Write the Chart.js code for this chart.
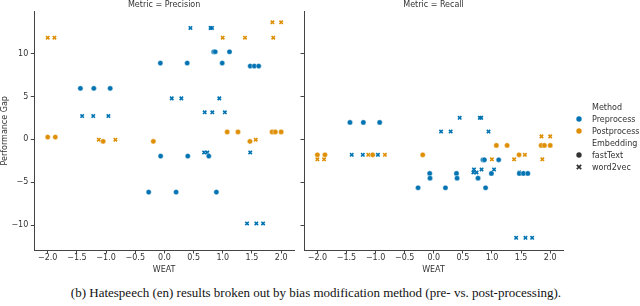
<!DOCTYPE html>
<html lang="en">
<head>
<meta charset="UTF-8">
<title>Hatespeech (en) performance gap by bias modification method</title>
<script src="https://cdn.jsdelivr.net/npm/chart.js"></script>
<style>
    body {
        margin: 0;
        width: 640px;
        height: 306px;
        position: relative;
        overflow: hidden;
        background: #fff;
        font-family: "DejaVu Sans", sans-serif;
    }
    .panel { position: absolute; top: 0; height: 280px; }
    #precision-panel { left: 0; width: 300px; }
    #recall-panel { left: 290px; width: 350px; }
    .legend {
        position: absolute;
        left: 574px;
        top: 101px;
        font-size: 8px;
        color: #333;
        white-space: nowrap;
    }
    .legend .row { display: flex; align-items: center; height: 12px; }
    .legend .mk { width: 10px; height: 10px; margin-right: 8px; display: flex; align-items: center; justify-content: center; }
    .caption {
        position: absolute;
        left: -4px;
        top: 285px;
        width: 640px;
        text-align: center;
        font-family: "Liberation Serif", serif;
        font-size: 13px;
        color: #111;
    }
</style>
</head>
<body>
    <div class="panel" id="precision-panel"><canvas id="precision"></canvas></div>
    <div class="panel" id="recall-panel"><canvas id="recall"></canvas></div>

    <div class="legend">
        <div class="row"><span class="mk"></span>Method</div>
        <div class="row"><span class="mk"><svg width="6" height="6"><circle cx="3" cy="3" r="2.7" fill="#0173b2"/></svg></span>Preprocess</div>
        <div class="row"><span class="mk"><svg width="6" height="6"><circle cx="3" cy="3" r="2.7" fill="#de8f05"/></svg></span>Postprocess</div>
        <div class="row"><span class="mk"></span>Embedding</div>
        <div class="row"><span class="mk"><svg width="6" height="6"><circle cx="3" cy="3" r="2.7" fill="#333"/></svg></span>fastText</div>
        <div class="row"><span class="mk"><svg width="6" height="6"><path d="M0.8 0.8 L5.2 5.2 M5.2 0.8 L0.8 5.2" stroke="#333" stroke-width="1.7"/></svg></span>word2vec</div>
    </div>

    <div class="caption">(b) Hatespeech (en) results broken out by bias modification method (pre- vs. post-processing).</div>

    <script>
        const weatTicks = [-2, -1.5, -1, -0.5, 0, 0.5, 1, 1.5, 2];
        const gapTicks = [-10, -5, 0, 5, 10];

        // Preprocess + fastText
        const preFastWeat = [-1.44, -1.21, -0.93, -0.07, 0.39, 0.99, 0.845, 0.87, 1.115, 1.47, 1.54, 1.615, -0.065, 0.40, 0.76, -0.27, 0.20, 0.89];
        const preFastPrecision = [5.95, 5.95, 5.95, 8.9, 8.9, 8.9, 10.22, 10.22, 10.22, 8.55, 8.55, 8.55, -1.95, -1.95, -1.95, -6.15, -6.15, -6.15];
        const preFastRecall = [1.98, 1.98, 1.98, -3.97, -3.97, -3.97, -2.38, -2.38, -2.38, -3.97, -3.97, -3.97, -4.52, -4.52, -4.52, -5.64, -5.64, -5.64];

        // Preprocess + word2vec
        const preW2vWeat = [-1.41, -1.22, -0.96, 0.445, 0.79, 0.815, 0.125, 0.29, 0.94, 0.69, 0.82, 1.035, 0.68, 0.735, 1.47, 1.415, 1.575, 1.69];
        const preW2vPrecision = [2.72, 2.72, 2.72, 13.0, 13.0, 13.0, 4.78, 4.78, 4.78, 3.16, 3.16, 3.16, -1.52, -1.52, -1.52, -9.8, -9.8, -9.8];
        const preW2vRecall = [-1.8, -1.8, -1.8, 2.52, 2.52, 2.52, 0.91, 0.91, 0.91, -3.5, -3.5, -3.5, -3.85, -3.85, -3.85, -11.48, -11.48, -11.48];

        // Postprocess + fastText
        const postFastWeat = [-2.0, -1.87, -1.05, -0.19, 1.465, 1.075, 1.26, 1.845, 1.90, 2.0];
        const postFastPrecision = [0.27, 0.27, -0.23, -0.23, -0.23, 0.87, 0.87, 0.87, 0.87, 0.87];
        const postFastRecall = [-1.8, -1.8, -1.8, -1.8, -1.8, -0.7, -0.7, -0.7, -0.7, -0.7];

        // Postprocess + word2vec
        const postW2vWeat = [-2.0, -1.885, 0.998, 1.38, 1.865, 1.85, 2.0, -1.125, -0.84, 1.565];
        const postW2vPrecision = [11.86, 11.86, 11.86, 11.86, 11.86, 13.65, 13.65, -0.04, -0.04, -0.04];
        const postW2vRecall = [-2.33, -2.33, -2.33, -2.33, -2.33, 0.35, 0.35, -1.8, -1.8, -1.8];

        const BLUE = '#0173b2';
        const ORANGE = '#de8f05';
        const AXIS = '#444';
        const TEXT = '#333';

        Chart.defaults.font.family = '"DejaVu Sans", sans-serif';
        Chart.defaults.font.size = 8;
        Chart.defaults.color = TEXT;

        const fmt = (v, digits) => v.toFixed(digits).replace('-', '\u2212');
        const pts = (xs, ys) => xs.map((x, i) => ({ x: x, y: ys[i] }));

        function dot(color) {
            return { pointStyle: 'circle', pointRadius: 2.6, backgroundColor: color, borderColor: '#fff', borderWidth: 0.4 };
        }
        function cross(color) {
            return { pointStyle: 'crossRot', pointRadius: 2.4, backgroundColor: color, borderColor: color, borderWidth: 1.6 };
        }

        function makePanel(canvasId, title, gaps, first) {
            const datasets = [
                Object.assign({ label: 'Preprocess fastText', data: pts(preFastWeat, gaps.preFast) }, dot(BLUE)),
                Object.assign({ label: 'Preprocess word2vec', data: pts(preW2vWeat, gaps.preW2v) }, cross(BLUE)),
                Object.assign({ label: 'Postprocess fastText', data: pts(postFastWeat, gaps.postFast) }, dot(ORANGE)),
                Object.assign({ label: 'Postprocess word2vec', data: pts(postW2vWeat, gaps.postW2v) }, cross(ORANGE))
            ];
            return new Chart(document.getElementById(canvasId), {
                type: 'scatter',
                data: { datasets: datasets },
                options: {
                    responsive: true,
                    maintainAspectRatio: false,
                    animation: false,
                    layout: { padding: { left: 0, top: 0, bottom: 0, right: first ? 6 : 77 } },
                    plugins: {
                        legend: { display: false },
                        tooltip: { enabled: false },
                        title: {
                            display: true,
                            text: title,
                            fullSize: false,
                            color: TEXT,
                            font: { size: 8, weight: 'normal' },
                            padding: { top: 0, bottom: 2 }
                        }
                    },
                    scales: {
                        x: {
                            type: 'linear',
                            min: -2.23,
                            max: 2.22,
                            afterBuildTicks: s => { s.ticks = weatTicks.map(v => ({ value: v })); },
                            afterFit: s => { s.height = 30; },
                            ticks: { padding: 0, maxRotation: 0, callback: v => fmt(v, 1) },
                            grid: { drawOnChartArea: false, drawTicks: true, tickLength: 3.5, tickColor: AXIS, tickWidth: 1 },
                            border: { display: true, color: AXIS, width: 1 },
                            title: { display: true, text: 'WEAT', padding: { top: 0, bottom: 5 } }
                        },
                        y: {
                            type: 'linear',
                            min: -12.9,
                            max: 14.9,
                            afterBuildTicks: s => { s.ticks = gapTicks.map(v => ({ value: v })); },
                            afterFit: s => { s.width = first ? 34.3 : 14; },
                            ticks: { padding: 2.5, callback: v => first ? fmt(v, 0) : '' },
                            grid: { drawOnChartArea: false, drawTicks: true, tickLength: 3.5, tickColor: AXIS, tickWidth: 1 },
                            border: { display: true, color: AXIS, width: 1 },
                            title: { display: first, text: 'Performance Gap', padding: { top: 0, bottom: 0 } }
                        }
                    }
                }
            });
        }

        makePanel('precision', 'Metric = Precision',
            { preFast: preFastPrecision, preW2v: preW2vPrecision, postFast: postFastPrecision, postW2v: postW2vPrecision }, true);
        makePanel('recall', 'Metric = Recall',
            { preFast: preFastRecall, preW2v: preW2vRecall, postFast: postFastRecall, postW2v: postW2vRecall }, false);
    </script>
</body>
</html>
